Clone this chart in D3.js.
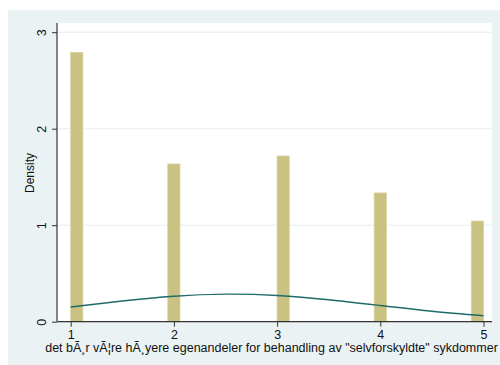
<!DOCTYPE html>
<html>
<head>
<meta charset="utf-8">
<script src="https://cdn.jsdelivr.net/npm/d3@7"></script>
<style>
  html, body { margin: 0; padding: 0; background: #ffffff; }
  svg { display: block; font-family: "Liberation Sans", Arial, Helvetica, sans-serif; }
</style>
</head>
<body>
<svg id="chart" width="500" height="365"></svg>
<script>
// Histogram bins (start of each occupied bin), width of every bin, and density heights
const binStarts = [1, 1.941, 3, 3.941, 4.882];
const binWidth = 0.1176;
const densities = [2.79, 1.634, 1.717, 1.334, 1.043];

// Overlaid normal density, sampled along the x range
const curveX = [1, 1.5, 2, 2.5, 3, 3.5, 4, 4.5, 5];
const curveY = [0.153, 0.214, 0.264, 0.286, 0.272, 0.228, 0.168, 0.109, 0.062];

const xTicks = [1, 2, 3, 4, 5];
const yTicks = [0, 1, 2, 3];
const yGrid = [1, 2, 3];

const xTitle = 'det bÃ¸r vÃ¦re hÃ¸yere egenandeler for behandling av "selvforskyldte" sykdommer';
const yTitle = 'Density';

const svg = d3.select('#chart');

// outer graph region
svg.append('rect')
  .attr('x', 8).attr('y', 10).attr('width', 492).attr('height', 355)
  .attr('fill', '#eaf2f3');

const plot = { left: 57, right: 492, top: 23, bottom: 321.7 };

svg.append('rect')
  .attr('x', plot.left).attr('y', plot.top)
  .attr('width', plot.right - plot.left).attr('height', plot.bottom - plot.top)
  .attr('fill', '#ffffff');

const x = d3.scaleLinear().domain([1, 5]).range([70.7, 483.5]);
const y = d3.scaleLinear().domain([0, 3]).range([plot.bottom, 32.2]);

// horizontal grid lines
svg.append('g').selectAll('line').data(yGrid).join('line')
  .attr('x1', plot.left).attr('x2', plot.right)
  .attr('y1', d => y(d)).attr('y2', d => y(d))
  .attr('stroke', '#e4eeee').attr('stroke-width', 1);

// bars
svg.append('g').selectAll('rect').data(binStarts).join('rect')
  .attr('x', d => x(d))
  .attr('width', d => x(d + binWidth) - x(d))
  .attr('y', (d, i) => y(densities[i]))
  .attr('height', (d, i) => y(0) - y(densities[i]))
  .attr('fill', '#c9c282')
  .attr('stroke', '#d6d09c')
  .attr('stroke-width', 0.8);

// normal density line
const pts = curveX.map((d, i) => [d, curveY[i]]);
svg.append('path')
  .datum(pts)
  .attr('d', d3.line().x(d => x(d[0])).y(d => y(d[1])).curve(d3.curveNatural))
  .attr('fill', 'none')
  .attr('stroke', '#1f6b69')
  .attr('stroke-width', 1.4);

// x axis
const xAxis = svg.append('g')
  .attr('transform', `translate(0,${plot.bottom})`)
  .call(d3.axisBottom(x).tickValues(xTicks).tickFormat(d3.format('d')).tickSize(5).tickSizeOuter(0));
xAxis.select('.domain').attr('d', `M${plot.left},0H${plot.right}`).attr('stroke', '#333').attr('stroke-width', 1.3);
xAxis.selectAll('.tick line').attr('stroke', '#333');
xAxis.selectAll('.tick text')
  .attr('font-size', 12.5).attr('fill', '#111')
  .attr('font-family', '"Liberation Sans", Arial, sans-serif')
  .attr('dy', '0.71em');

// y axis
const yAxis = svg.append('g')
  .attr('transform', `translate(${plot.left},0)`)
  .call(d3.axisLeft(y).tickValues(yTicks).tickFormat(d3.format('d')).tickSize(5).tickSizeOuter(0));
yAxis.select('.domain').attr('d', `M0,${plot.top}V${plot.bottom}`).attr('stroke', '#666').attr('stroke-width', 1.6);
yAxis.selectAll('.tick line').attr('stroke', '#333');
yAxis.selectAll('.tick text')
  .attr('font-size', 12.5).attr('fill', '#111')
  .attr('font-family', '"Liberation Sans", Arial, sans-serif')
  .attr('x', null)
  .attr('text-anchor', 'middle')
  .attr('transform', 'translate(-15,0) rotate(-90)')
  .attr('dy', '0.35em');

// axis titles
svg.append('text')
  .attr('x', 271.5).attr('y', 352)
  .attr('text-anchor', 'middle')
  .attr('font-size', 12.5).attr('fill', '#111')
  .text(xTitle);

svg.append('text')
  .attr('transform', `translate(33.5,173) rotate(-90)`)
  .attr('text-anchor', 'middle')
  .attr('font-size', 12).attr('fill', '#111')
  .text(yTitle);
</script>
</body>
</html>
